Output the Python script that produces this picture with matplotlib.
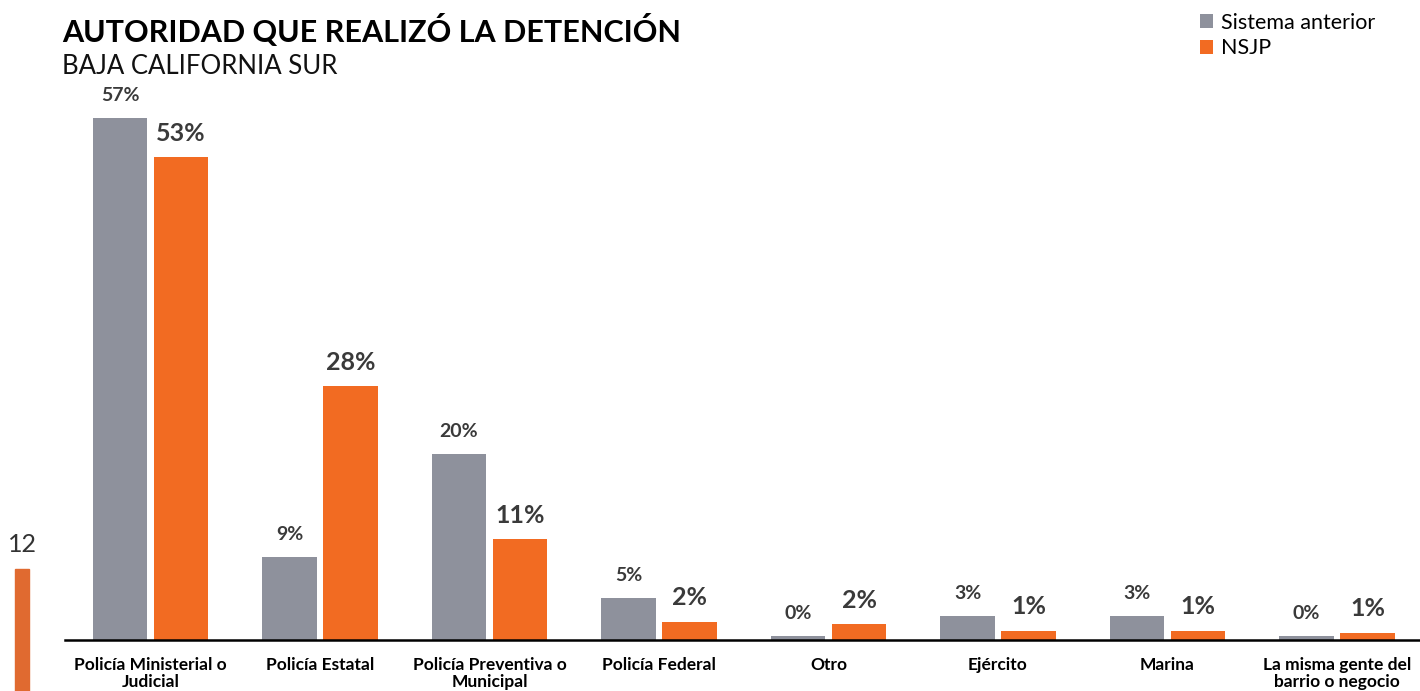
import matplotlib.pyplot as plt
import numpy as np

plt.rcParams['font.family'] = ['Lato', 'DejaVu Sans']

categorias = ['Policía Ministerial o\nJudicial', 'Policía Estatal',
              'Policía Preventiva o\nMunicipal', 'Policía Federal', 'Otro',
              'Ejército', 'Marina', 'La misma gente del\nbarrio o negocio']
sistema_anterior = [57, 9.1, 20.3, 4.6, 0.4, 2.6, 2.6, 0.4]
nsjp = [52.7, 27.7, 11.0, 2.0, 1.7, 1.0, 1.0, 0.8]

gris = '#8E919C'
naranja = '#F26B22'

fig = plt.figure(figsize=(14.2, 6.91), dpi=100)
ax = fig.add_axes([65 / 1420, 1 - 640 / 691, 1 - 65 / 1420, 540 / 691])

x = np.arange(len(categorias))
w = 0.32
off = 0.18
b1 = ax.bar(x - off, sistema_anterior, w, color=gris, label='Sistema anterior')
b2 = ax.bar(x + off, nsjp, w, color=naranja, label='NSJP')

for r, v in zip(b1, sistema_anterior):
    ax.annotate('{:.0f}%'.format(v), (r.get_x() + r.get_width() / 2, r.get_height()),
                xytext=(0, 10), textcoords='offset points', ha='center', va='bottom',
                fontsize=14, fontweight='bold', color='#3a3a3a')
for r, v in zip(b2, nsjp):
    ax.annotate('{:.0f}%'.format(v), (r.get_x() + r.get_width() / 2, r.get_height()),
                xytext=(0, 9), textcoords='offset points', ha='center', va='bottom',
                fontsize=18, fontweight='bold', color='#3a3a3a')

ax.set_xlim(-0.505, 7.49)
ax.set_ylim(0, 58.95)
for s in ['top', 'right', 'left']:
    ax.spines[s].set_visible(False)
ax.spines['bottom'].set_linewidth(1.8)
ax.spines['bottom'].set_color('black')
ax.set_yticks([])
ax.set_xticks(x)
ax.set_xticklabels(categorias, fontsize=12.5, fontweight='bold', linespacing=1.1)
ax.tick_params(axis='x', length=0, pad=12)

fig.text(62 / 1420, 1 - 14 / 691, 'AUTORIDAD QUE REALIZÓ LA DETENCIÓN',
         fontsize=22, fontweight='bold', va='top', ha='left', color='black')
fig.text(62 / 1420, 1 - 54 / 691, 'BAJA CALIFORNIA SUR',
         fontsize=18.5, va='top', ha='left', color='#111111')

ax.legend(loc='upper left', bbox_to_anchor=(1187 / 1420, 1.0), bbox_transform=fig.transFigure,
          frameon=False, fontsize=15.5, handlelength=0.6, handleheight=0.6,
          handletextpad=0.4, labelspacing=0.25, borderaxespad=0.2)

fig.text(22 / 1420, 1 - 544 / 691, '12', fontsize=18, ha='center', va='center', color='#333333')
fig.patches.append(plt.Rectangle((15 / 1420, 0), 14 / 1420, 122 / 691,
                                 transform=fig.transFigure, color='#E06A30'))

plt.savefig('out.png', dpi=100)
